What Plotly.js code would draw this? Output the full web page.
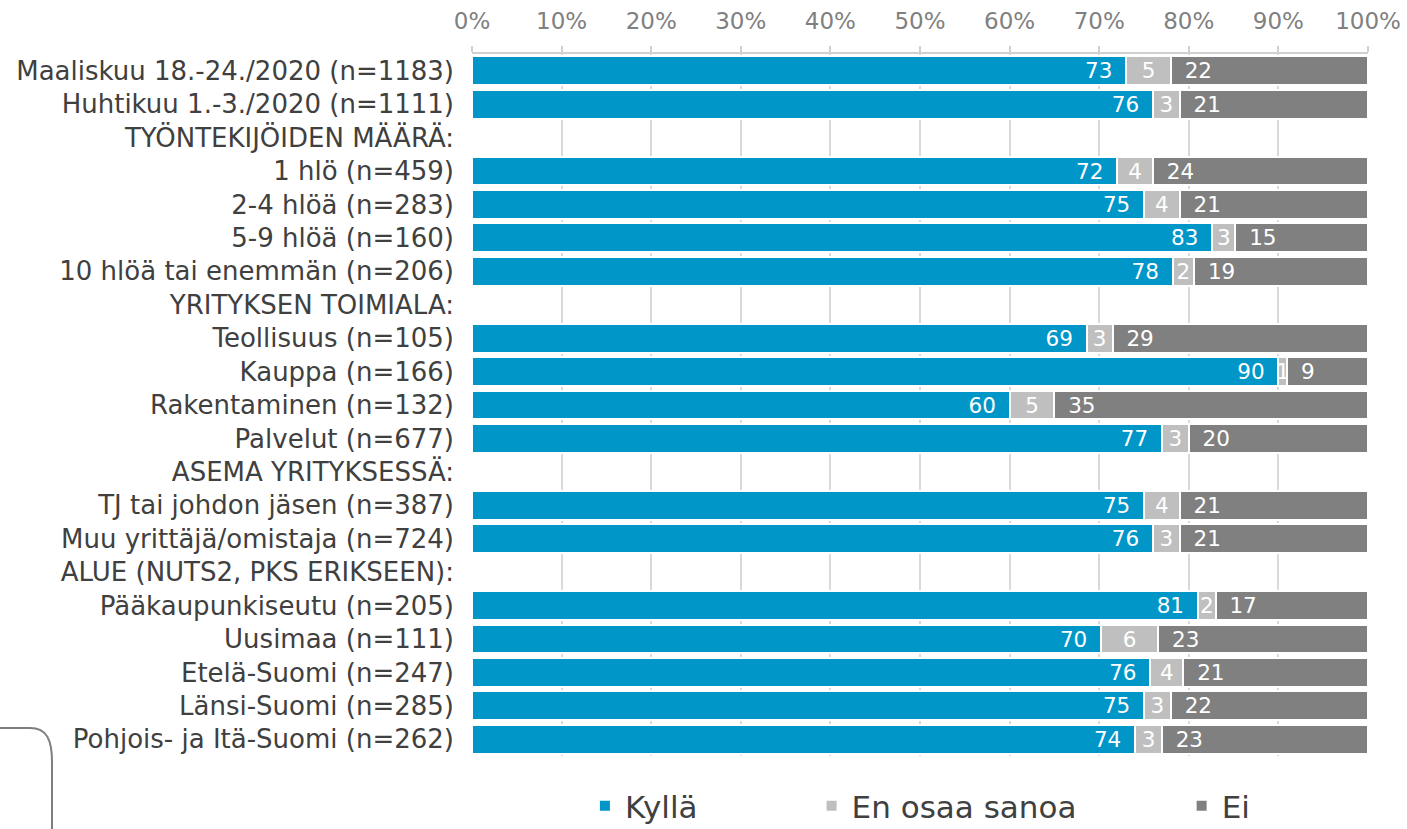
<!DOCTYPE html>
<html>
<head>
<meta charset="utf-8">
<script src="https://cdn.plot.ly/plotly-3.0.1.min.js"></script>
<style>
  html, body { margin: 0; padding: 0; background: #ffffff; }
  #chart { width: 1407px; height: 829px; }
</style>
</head>
<body>
<div id="chart"></div>
<script>
// ---- data ----
const categories = [
  "Maaliskuu 18.-24./2020 (n=1183)",
  "Huhtikuu 1.-3./2020 (n=1111)",
  "TYÖNTEKIJÖIDEN MÄÄRÄ:",
  "1 hlö (n=459)",
  "2-4 hlöä (n=283)",
  "5-9 hlöä (n=160)",
  "10 hlöä tai enemmän (n=206)",
  "YRITYKSEN TOIMIALA:",
  "Teollisuus (n=105)",
  "Kauppa (n=166)",
  "Rakentaminen (n=132)",
  "Palvelut (n=677)",
  "ASEMA YRITYKSESSÄ:",
  "TJ tai johdon jäsen (n=387)",
  "Muu yrittäjä/omistaja (n=724)",
  "ALUE (NUTS2, PKS ERIKSEEN):",
  "Pääkaupunkiseutu (n=205)",
  "Uusimaa (n=111)",
  "Etelä-Suomi (n=247)",
  "Länsi-Suomi (n=285)",
  "Pohjois- ja Itä-Suomi (n=262)"
];
const kylla = [73, 76, null, 72, 75, 82.6, 78.2, null, 68.6, 90, 60, 77, null, 75, 76, null, 81, 70.2, 75.7, 75, 74];
const enOsaaSanoa = [5, 3, null, 4, 4, 2.6, 2.4, null, 2.9, 1, 5, 3, null, 4, 3, null, 2, 6.4, 3.7, 3, 3];
const ei = [22, 21, null, 24, 21, 14.8, 19.4, null, 28.5, 9, 35, 20, null, 21, 21, null, 17, 23.4, 20.6, 22, 23];
const seriesNames = ["Kyllä", "En osaa sanoa", "Ei"];
const xTickVals = [0, 10, 20, 30, 40, 50, 60, 70, 80, 90, 100];
const xTickText = xTickVals.map(v => v + "%");

// ---- style ----
const FONT = "DejaVu Sans, Verdana, sans-serif";
const colors = ["#0096c8", "#bfbfbf", "#808080"];
const EN = "\u2002";

function barTrace(vals, i, tmpl, anchor, legendId) {
  return {
    type: "bar",
    orientation: "h",
    name: seriesNames[i],
    y: categories,
    x: vals,
    marker: { color: colors[i], line: { color: "#ffffff", width: 2 } },
    texttemplate: tmpl,
    textposition: "inside",
    insidetextanchor: anchor,
    textangle: 0,
    constraintext: "none",
    insidetextfont: { family: FONT, size: 21.5, color: "#ffffff" },
    hoverinfo: "skip",
    legend: legendId
  };
}

const data = [
  barTrace(kylla, 0, "%{x:.0f}" + EN, "end", "legend"),
  barTrace(enOsaaSanoa, 1, "%{x:.0f}", "middle", "legend2"),
  barTrace(ei, 2, EN + "%{x:.0f}", "start", "legend3")
];

// pixel -> paper helpers for the decorative corner line
const L = 472, R = 39, T = 54, B = 73, W = 1407, H = 829;
const pw = W - L - R, ph = H - T - B;
function px(x) { return ((x - L) / pw).toFixed(5); }
function py(y) { return ((H - B - y) / ph).toFixed(5); }
const cornerPath =
  "M" + px(-5) + "," + py(728) +
  " L" + px(30) + "," + py(728) +
  " C" + px(47) + "," + py(728) + " " + px(52) + "," + py(740) + " " + px(52) + "," + py(762) +
  " L" + px(52) + "," + py(840);

const legendFont = { family: FONT, size: 31, color: "#404040" };
function leg(x) {
  return { x: x, y: py(779), xanchor: "left", yanchor: "top", orientation: "h",
           font: legendFont, bgcolor: "rgba(0,0,0,0)", traceorder: "normal" };
}

const layout = {
  width: W, height: H,
  margin: { l: L, r: R, t: T, b: B, pad: 0, autoexpand: false },
  paper_bgcolor: "#ffffff",
  plot_bgcolor: "#ffffff",
  barmode: "stack",
  bargap: 0.14,
  font: { family: FONT, color: "#404040" },
  showlegend: true,
  legend: leg(0.126),
  legend2: leg(0.379),
  legend3: leg(0.792),
  xaxis: {
    side: "top",
    range: [0, 100],
    tickmode: "array",
    tickvals: xTickVals,
    ticktext: xTickText,
    tickfont: { family: FONT, size: 23, color: "#808080" },
    ticks: "outside", ticklen: 6, tickwidth: 2, tickcolor: "#d0d0d0",
    ticklabelstandoff: 8,
    showline: true, linecolor: "#d0d0d0", linewidth: 2,
    showgrid: true, gridcolor: "#d9d9d9", gridwidth: 2,
    zeroline: false,
    fixedrange: true,
    automargin: false
  },
  yaxis: {
    type: "category",
    autorange: "reversed",
    tickfont: { family: FONT, size: 26, color: "#404040" },
    ticks: "",
    ticklabelstandoff: 17,
    showline: false, showgrid: false, zeroline: false,
    fixedrange: true,
    automargin: false
  },
  shapes: [{
    type: "path", xref: "paper", yref: "paper", layer: "above",
    path: cornerPath,
    line: { color: "#7f7f7f", width: 2 }
  }]
};

Plotly.newPlot("chart", data, layout, { displayModeBar: false, staticPlot: true });
</script>
</body>
</html>
